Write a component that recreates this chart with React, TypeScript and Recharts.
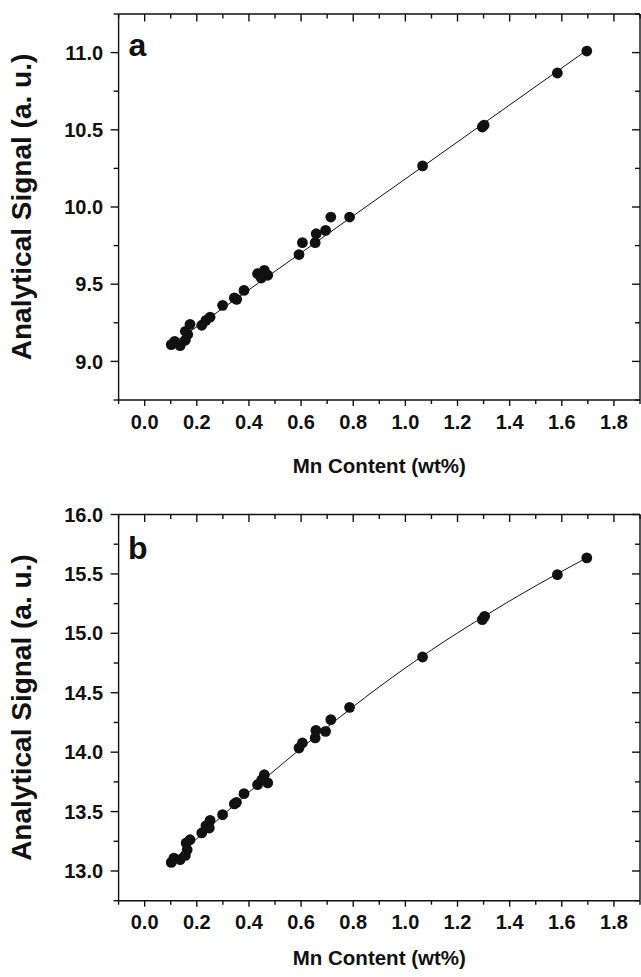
import React from 'react';
import { ComposedChart, Scatter, Line, XAxis, YAxis } from 'recharts';

// Panel a data
const mnA = [0.102, 0.115, 0.136, 0.156, 0.165, 0.156, 0.174, 0.219, 0.235, 0.251, 0.299, 0.344, 0.353, 0.381, 0.433, 0.447, 0.459, 0.472, 0.592, 0.605, 0.654, 0.658, 0.694, 0.714, 0.786, 1.066, 1.295, 1.302, 1.583, 1.696];
const signalA = [9.109, 9.130, 9.102, 9.137, 9.174, 9.195, 9.240, 9.234, 9.266, 9.287, 9.363, 9.411, 9.402, 9.460, 9.568, 9.540, 9.590, 9.558, 9.692, 9.769, 9.769, 9.827, 9.849, 9.935, 9.935, 10.266, 10.518, 10.530, 10.868, 11.010];
const fitAx = [0.1, 1.7];
const fitAy = [9.105, 11.02];

// Panel b data
const mnB = [0.102, 0.112, 0.136, 0.156, 0.163, 0.159, 0.174, 0.219, 0.235, 0.251, 0.248, 0.299, 0.344, 0.352, 0.381, 0.433, 0.449, 0.459, 0.472, 0.592, 0.605, 0.654, 0.657, 0.694, 0.714, 0.786, 1.066, 1.295, 1.304, 1.583, 1.696];
const signalB = [13.072, 13.109, 13.095, 13.131, 13.179, 13.236, 13.263, 13.320, 13.381, 13.426, 13.362, 13.474, 13.564, 13.578, 13.651, 13.726, 13.768, 13.810, 13.741, 14.035, 14.077, 14.120, 14.183, 14.175, 14.274, 14.377, 14.801, 15.115, 15.143, 15.494, 15.635];
const fitBx = [0.1, 0.3, 0.5, 0.7, 0.9, 1.1, 1.3, 1.5, 1.7];
const fitBy = [13.07, 13.47, 13.85, 14.21, 14.55, 14.86, 15.14, 15.40, 15.64];

// Axis ticks
const xTicks = [-0.1, 0, 0.1, 0.2, 0.3, 0.4, 0.5, 0.6, 0.7, 0.8, 0.9, 1.0, 1.1, 1.2, 1.3, 1.4, 1.5, 1.6, 1.7, 1.8, 1.9];
const yTicksA = [8.75, 9.0, 9.25, 9.5, 9.75, 10.0, 10.25, 10.5, 10.75, 11.0, 11.25];
const yTicksB = [12.75, 13.0, 13.25, 13.5, 13.75, 14.0, 14.25, 14.5, 14.75, 15.0, 15.25, 15.5, 15.75, 16.0];
const xDomain = [-0.1, 1.9];
const yDomainA = [8.75, 11.25];
const yDomainB = [12.75, 16.0];

const FONT = '"Liberation Sans", Arial, Helvetica, sans-serif';
const INK = '#111';
const AXW = 1.4;

const isMult = (v: number, step: number) => Math.abs(Math.round(v / step) - v / step) < 1e-6;

const BottomTick = (props: any) => {
  const { x, y, payload } = props;
  const v = payload.value;
  const major = isMult(v, 0.2) && v >= 0 && v <= 1.8 + 1e-9;
  return (
    <g>
      <line x1={x} x2={x} y1={y} y2={y + (major ? 6 : 4)} stroke={INK} strokeWidth={AXW} />
      {major && (
        <text x={x} y={y + 28.5} textAnchor="middle" fontSize={20} fontWeight="bold" fontFamily={FONT} fill={INK}>
          {v.toFixed(1)}
        </text>
      )}
    </g>
  );
};

const TopTick = (props: any) => {
  const { x, y, payload } = props;
  const major = isMult(payload.value, 0.2);
  return <line x1={x} x2={x} y1={y} y2={y + (major ? 7.5 : 4.5)} stroke={INK} strokeWidth={AXW} />;
};

const makeLeftTick = (lo: number, hi: number) => (props: any) => {
  const { x, y, payload } = props;
  const v = payload.value;
  const major = isMult(v, 0.5) && v >= lo - 1e-9 && v <= hi + 1e-9;
  return (
    <g>
      <line x1={x - (major ? 8 : 5)} x2={x} y1={y} y2={y} stroke={INK} strokeWidth={AXW} />
      {major && (
        <text x={x - 15.5} y={y + 7.1} textAnchor="end" fontSize={20} fontWeight="bold" fontFamily={FONT} fill={INK}>
          {v.toFixed(1)}
        </text>
      )}
    </g>
  );
};

const RightTick = (props: any) => {
  const { x, y, payload } = props;
  const major = isMult(payload.value, 0.5);
  return <line x1={x - (major ? 8 : 5)} x2={x} y1={y} y2={y} stroke={INK} strokeWidth={AXW} />;
};

const YLabel = (props: any) => {
  const vb = props.viewBox || {};
  const cx = 31;
  const cy = vb.y + vb.height / 2;
  return (
    <text x={cx} y={cy} transform={`rotate(-90 ${cx} ${cy})`} textAnchor="middle" fontSize={28} fontWeight="bold" fontFamily={FONT} fill={INK}>
      Analytical Signal (a. u.)
    </text>
  );
};

const makeXLabel = (dy: number) => (props: any) => {
  const vb = props.viewBox || {};
  return (
    <text x={vb.x + vb.width / 2} y={vb.y + dy} textAnchor="middle" fontSize={20.5} fontWeight="bold" fontFamily={FONT} fill={INK}>
      Mn Content (wt%)
    </text>
  );
};

const Dot = (p: any) => <circle cx={p.cx} cy={p.cy} r={5.4} fill={INK} />;

type PanelProps = {
  points: { x: number; y: number }[];
  fit: { x: number; y: number }[];
  yDomain: number[];
  yTicks: number[];
  yLo: number;
  yHi: number;
  height: number;
  top: number;
  xAxisHeight: number;
  xLabelDy: number;
};

const Panel = ({ points, fit, yDomain, yTicks, yLo, yHi, height, top, xAxisHeight, xLabelDy }: PanelProps) => (
  <ComposedChart width={641} height={height} margin={{ top: top - 1, right: 0, bottom: 0, left: 0 }}>
    <XAxis
      xAxisId="b"
      dataKey="x"
      type="number"
      domain={xDomain}
      ticks={xTicks}
      interval={0}
      allowDataOverflow
      height={xAxisHeight}
      tickSize={0}
      tickMargin={0}
      tickLine={false}
      axisLine={{ stroke: INK, strokeWidth: AXW }}
      tick={<BottomTick />}
      label={{ content: makeXLabel(xLabelDy) }}
    />
    <XAxis
      xAxisId="t"
      orientation="top"
      dataKey="x"
      type="number"
      domain={xDomain}
      ticks={xTicks}
      interval={0}
      allowDataOverflow
      height={1}
      tickSize={0}
      tickMargin={0}
      tickLine={false}
      axisLine={{ stroke: INK, strokeWidth: AXW }}
      tick={<TopTick />}
    />
    <YAxis
      yAxisId="l"
      type="number"
      domain={yDomain}
      ticks={yTicks}
      interval={0}
      allowDataOverflow
      width={118.6}
      tickSize={0}
      tickMargin={0}
      tickLine={false}
      axisLine={{ stroke: INK, strokeWidth: AXW }}
      tick={makeLeftTick(yLo, yHi)}
      label={{ content: YLabel }}
    />
    <YAxis
      yAxisId="r"
      orientation="right"
      type="number"
      domain={yDomain}
      ticks={yTicks}
      interval={0}
      allowDataOverflow
      width={1}
      tickSize={0}
      tickMargin={0}
      tickLine={false}
      axisLine={{ stroke: INK, strokeWidth: AXW }}
      tick={<RightTick />}
    />
    <Line xAxisId="b" yAxisId="l" data={fit} dataKey="y" type="monotone" dot={false} stroke={INK} strokeWidth={1} isAnimationActive={false} />
    <Line xAxisId="t" yAxisId="r" data={fit} dataKey="y" type="monotone" dot={false} stroke="none" isAnimationActive={false} legendType="none" />
    <Scatter xAxisId="b" yAxisId="l" data={points} dataKey="y" shape={Dot} isAnimationActive={false} />
  </ComposedChart>
);

const pointsA = mnA.map((x, i) => ({ x, y: signalA[i] }));
const pointsB = mnB.map((x, i) => ({ x, y: signalB[i] }));
const fitA = fitAx.map((x, i) => ({ x, y: fitAy[i] }));
const fitB = fitBx.map((x, i) => ({ x, y: fitBy[i] }));

export default function App() {
  return (
    <div style={{ position: 'absolute', left: 0, top: 0, width: 641, height: 977, background: '#fff' }}>
      <div style={{ position: 'absolute', left: 0, top: 0 }}>
        <Panel points={pointsA} fit={fitA} yDomain={yDomainA} yTicks={yTicksA} yLo={9.0} yHi={11.0} height={490} top={14} xAxisHeight={90} xLabelDy={73} />
      </div>
      <div style={{ position: 'absolute', left: 0, top: 490 }}>
        <Panel points={pointsB} fit={fitB} yDomain={yDomainB} yTicks={yTicksB} yLo={13.0} yHi={16.0} height={487} top={24.5} xAxisHeight={76.3} xLabelDy={64} />
      </div>
      <svg width={641} height={977} style={{ position: 'absolute', left: 0, top: 0, pointerEvents: 'none' }}>
        <text x={128.5} y={56} fontSize={32} fontWeight="bold" fontFamily={FONT} fill={INK}>a</text>
        <text x={128} y={559} fontSize={32} fontWeight="bold" fontFamily={FONT} fill={INK}>b</text>
      </svg>
    </div>
  );
}
